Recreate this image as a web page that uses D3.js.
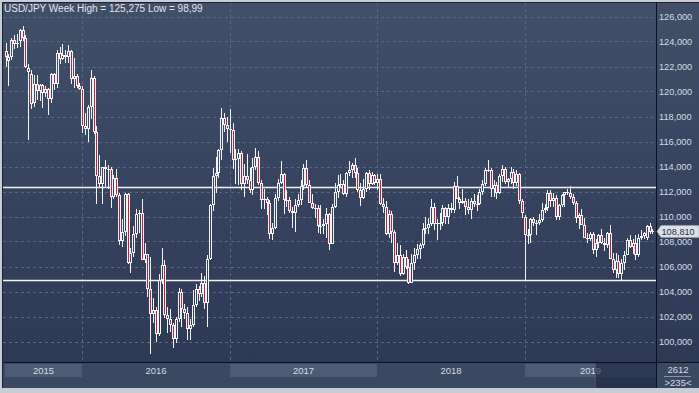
<!DOCTYPE html>
<html><head><meta charset="utf-8">
<script src="https://cdn.jsdelivr.net/npm/d3@7"></script>
<style>html,body{margin:0;padding:0;background:#c8cdd5;overflow:hidden}svg{display:block}</style>
</head><body><svg id="c" width="699" height="393"></svg>
<script>
// ---- data ----
const title = "USD/JPY Week High = 125,275 Low = 98,99";
const firstWeek = "2015-06-29"; // Monday of the first weekly candle
const open = [
// 2015
123.2,122.4,122.8,124.1,123.8,124.0,124.9,124.3,121.9,121.4,119.1,120.6,120.0,120.5,119.9,120.2,119.4,121.4,120.6,123.1,122.6,122.9,122.8,123.2,121.0,121.2,120.4,
// 2016
120.2,117.2,117.0,118.8,121.1,116.8,113.2,112.6,114.0,113.8,113.8,111.6,113.1,111.7,108.0,108.8,111.8,106.3,107.1,108.6,110.2,110.3,106.5,107.0,104.2,102.2,102.5,100.6,104.9,106.1,102.1,101.8,101.3,100.2,101.8,104.0,102.6,102.3,101.0,101.3,102.9,104.2,103.8,104.7,103.1,106.6,110.9,113.2,113.5,115.3,117.9,117.3,
// 2017
117.0,116.9,114.5,114.6,115.1,112.6,113.2,112.9,112.1,114.0,114.8,112.7,111.3,111.4,111.1,108.6,109.1,111.5,112.7,113.4,111.3,111.3,110.4,110.3,110.9,111.3,112.4,113.9,112.5,111.1,110.7,110.7,109.2,109.2,109.4,110.2,107.8,110.8,112.0,112.5,112.6,111.8,113.5,113.7,114.1,113.5,112.1,111.5,112.2,113.5,112.6,113.3,
// 2018
112.7,113.0,111.0,110.8,108.6,110.2,108.8,106.3,106.9,105.4,106.8,106.0,104.7,106.3,106.9,107.4,107.7,109.0,109.1,109.4,110.8,109.4,109.5,109.5,110.7,110.0,110.7,110.5,112.4,111.4,111.1,111.2,110.8,110.5,111.2,111.0,111.0,112.0,112.6,113.7,113.7,112.2,112.5,111.9,113.2,113.8,112.8,113.0,113.6,112.7,113.4,111.2,
// 2019
110.0,108.5,108.5,109.8,109.5,109.5,109.7,110.5,110.7,111.9,111.2,111.5,110.0,110.9,111.7,112.0,111.9,111.6,111.1,109.9,110.1,109.3,108.3,108.2,108.6,107.3,107.9,108.5,107.9,107.7,108.7,106.6,105.7,106.4,105.4,106.3,106.9,108.1,107.6,107.9,106.9,108.3,108.4,108.3,109.2,108.8
];
const high = [
// 2015
123.9,123.0,124.3,124.5,124.6,125.0,125.275,124.5,122.2,121.7,121.3,121.3,120.6,120.6,120.4,120.3,121.5,121.5,123.3,123.6,123.8,123.3,123.7,123.3,122.7,121.4,120.7,
// 2016
120.4,118.3,118.9,121.7,121.2,117.2,114.9,113.4,114.5,114.1,114.0,113.3,113.8,111.9,109.8,111.9,111.9,107.5,109.2,110.6,110.5,111.4,107.9,107.0,106.8,103.5,102.8,105.4,107.5,106.5,102.8,102.6,101.5,102.0,104.3,104.2,103.0,102.8,101.8,104.1,104.6,104.4,105.5,105.2,106.9,111.0,113.9,114.8,115.4,118.66,118.3,118.0,
// 2017
118.6,117.5,115.4,115.4,115.2,114.2,115.0,113.9,114.7,115.5,115.2,112.9,112.2,111.6,111.3,109.5,111.8,113.0,114.4,113.5,112.1,111.6,110.8,111.4,111.8,112.9,114.2,114.5,112.9,111.8,111.0,110.9,110.9,109.8,110.7,110.3,111.0,112.7,113.3,113.4,112.9,113.6,114.45,114.3,114.7,113.9,112.7,113.0,113.6,113.7,113.6,113.4,
// 2018
113.4,113.4,111.5,111.2,110.5,110.4,108.9,107.9,107.7,107.0,107.3,106.6,107.0,107.5,107.8,107.9,109.5,110.0,109.9,111.4,111.1,109.8,110.3,110.9,110.8,111.0,111.1,112.8,113.2,111.6,112.2,111.5,111.4,111.5,111.8,111.7,112.2,112.9,113.9,114.55,113.9,112.9,112.8,113.4,114.1,114.0,113.1,114.0,113.8,113.7,113.5,111.4,
// 2019
110.1,109.0,109.9,110.0,109.7,110.2,111.1,111.0,112.1,112.1,111.9,111.7,111.0,111.8,112.0,112.2,112.4,111.8,111.2,110.3,110.6,109.9,108.7,108.8,108.8,108.2,108.6,109.0,108.3,108.8,109.3,107.1,107.1,106.9,106.6,107.2,108.3,108.5,108.2,108.5,108.6,108.9,108.8,109.3,109.5,109.0
];
const low = [
// 2015
122.0,120.4,122.5,123.4,123.5,123.6,124.0,121.9,116.15,118.6,118.8,119.3,119.2,118.7,119.6,118.1,119.1,120.1,120.3,122.2,122.5,122.3,122.3,120.6,120.3,120.3,120.1,
// 2016
116.7,116.5,116.0,117.8,116.6,111.0,112.3,111.0,112.3,112.2,110.7,111.4,111.6,107.7,107.6,108.4,106.2,105.5,106.8,108.3,108.7,106.5,106.3,103.6,98.99,101.5,100.0,100.4,104.6,101.9,100.7,100.8,99.5,99.9,101.6,101.2,101.8,100.1,100.1,101.2,102.8,103.2,103.6,102.6,101.2,106.5,110.4,111.9,113.1,114.5,116.8,116.0,
// 2017
115.1,113.8,112.6,112.5,112.1,111.6,112.6,111.9,111.7,113.7,112.5,110.6,110.6,110.1,108.2,108.1,109.0,111.2,112.6,110.2,110.8,110.3,109.1,108.8,110.8,110.9,112.1,112.3,111.1,110.6,109.9,108.7,108.6,108.6,108.3,107.3,107.8,110.7,111.5,112.3,111.7,111.6,113.2,113.1,113.1,112.0,110.85,111.4,112.0,112.1,112.5,112.5,
// 2018
112.1,110.9,110.3,108.5,108.3,107.9,105.55,106.1,105.25,105.3,105.8,104.6,104.7,105.7,106.6,106.6,107.5,108.6,108.6,109.2,108.9,108.1,108.9,109.2,109.4,109.4,110.3,110.3,111.4,110.6,111.0,110.1,110.2,109.8,110.8,110.4,110.9,111.7,112.4,113.6,111.6,111.6,111.4,111.8,112.8,112.6,112.3,112.6,112.2,112.4,111.0,109.9,
// 2019
104.87,107.8,107.9,109.2,108.5,109.3,109.6,110.3,110.4,110.8,110.8,109.7,109.7,110.8,110.8,111.7,111.4,110.9,109.5,109.0,109.3,108.3,107.9,108.0,107.0,106.8,107.5,107.8,107.2,107.5,106.6,105.5,105.05,105.1,104.95,105.7,106.9,107.5,107.0,106.5,106.8,108.1,108.2,108.1,108.6,108.6
];
const close = [
// 2015
122.8,122.8,124.1,123.8,123.9,124.9,124.3,122.0,121.6,119.0,120.6,120.0,120.5,119.9,120.2,119.4,121.4,120.6,123.1,122.6,122.9,122.8,123.2,121.0,121.2,120.4,120.2,
// 2016
117.2,117.0,118.8,121.1,116.8,113.2,112.6,114.0,113.8,113.8,111.6,113.1,111.7,108.0,108.8,111.8,106.3,107.1,108.6,110.2,110.3,106.5,107.0,104.2,102.2,102.5,100.6,104.9,106.1,102.1,101.8,101.3,100.2,101.8,104.0,102.6,102.3,101.0,101.3,102.9,104.2,103.8,104.7,103.1,106.6,110.9,113.2,113.5,115.3,117.9,117.3,117.0,
// 2017
116.9,114.5,114.6,115.1,112.6,113.2,112.9,112.1,114.0,114.8,112.7,111.3,111.4,111.1,108.6,109.1,111.5,112.7,113.4,111.3,111.3,110.4,110.3,110.9,111.3,112.4,113.9,112.5,111.1,110.7,110.7,109.2,109.2,109.4,110.2,107.8,110.8,112.0,112.5,112.6,111.8,113.5,113.7,114.1,113.5,112.1,111.5,112.2,113.5,112.6,113.3,112.7,
// 2018
113.0,111.0,110.8,108.6,110.2,108.8,106.3,106.9,105.4,106.8,106.0,104.7,106.3,106.9,107.4,107.7,109.0,109.1,109.4,110.8,109.4,109.5,109.5,110.7,110.0,110.7,110.5,112.4,111.4,111.1,111.2,110.8,110.5,111.2,111.0,111.0,112.0,112.6,113.7,113.7,112.2,112.5,111.9,113.2,113.8,112.8,113.0,113.6,112.7,113.4,111.2,110.3,
// 2019
108.5,108.5,109.8,109.5,109.5,109.7,110.5,110.7,111.9,111.2,111.5,110.0,110.9,111.7,112.0,111.9,111.6,111.1,109.9,110.1,109.3,108.3,108.2,108.6,107.3,107.9,108.5,107.9,107.7,108.7,106.6,105.7,106.4,105.4,106.3,106.9,108.1,107.6,107.9,106.9,108.3,108.4,108.7,109.2,108.8,108.81
];
const yTicks = [100,102,104,106,108,110,112,114,116,118,120,122,124,126];
const levels = [112.38, 104.9];     // drawn horizontal lines
const lastPrice = 108.81;
const footerTop = "2612", footerBottom = ">235<";

// ---- setup ----
const W = 699, H = 393;
const plot = {l:3, r:656, t:3, b:362};
const svg = d3.select("#c");
const defs = svg.append("defs");
const g1 = defs.append("linearGradient").attr("id","bg").attr("gradientUnits","userSpaceOnUse")
  .attr("x1",0).attr("y1",3).attr("x2",0).attr("y2",362);
g1.append("stop").attr("offset",0).attr("stop-color","#414f69");
g1.append("stop").attr("offset",1).attr("stop-color","#2e3955");
defs.append("clipPath").attr("id","clip").append("rect")
  .attr("x",plot.l).attr("y",plot.t).attr("width",plot.r-plot.l).attr("height",plot.b-plot.t);

const fmt = d3.formatLocale({decimal:",", thousands:" ", grouping:[3], currency:["",""]}).format(".3f");

const n = open.length;
const start = d3.timeParse("%Y-%m-%d")(firstWeek);
const weeks = d3.range(n).map(i => d3.timeWeek.offset(start, i));
const isoYear = d3.timeFormat("%G");
const x = d3.scaleBand().domain(d3.range(n)).range([4.2, 653.8]).paddingInner(0);
const cx = i => x(i) + x.bandwidth()/2;
const y = d3.scaleLinear().domain([100,126]).range([341.5,16.5]);

// frame & backgrounds
svg.append("rect").attr("width",W).attr("height",H).attr("fill","#c8cdd5");
svg.append("rect").attr("x",2).attr("y",2).attr("width",W-2).attr("height",386).attr("fill","#1b2233");
svg.append("rect").attr("x",3).attr("y",3).attr("width",W-3).attr("height",359).attr("fill","url(#bg)");
svg.append("rect").attr("x",3).attr("y",363).attr("width",W-3).attr("height",25).attr("fill","#3b4862");

// year boundaries
const yearStarts = [];
weeks.forEach((d,i) => {
  const yr = isoYear(d);
  if (i === 0 || yr !== isoYear(weeks[i-1])) yearStarts.push({year: yr, i});
});
const bands = yearStarts.map((s,j) => ({
  year: s.year,
  x0: j === 0 ? x(0) + 0.8 : Math.round(cx(s.i)),
  x1: j < yearStarts.length-1 ? Math.round(cx(yearStarts[j+1].i)) : plot.r,
  shade: j % 2 === 0
}));

// year band shading & labels
const axisG = svg.append("g");
axisG.selectAll("rect.band").data(bands.filter(b => b.shade)).join("rect")
  .attr("x", b => b.x0).attr("y",364).attr("width", b => b.x1 - b.x0).attr("height",13)
  .attr("fill","#4d5b75");
axisG.selectAll("text").data(bands).join("text")
  .attr("x", b => (b.x0 + b.x1)/2).attr("y",373.5).attr("text-anchor","middle")
  .attr("font-family","'Liberation Sans', Arial, sans-serif").attr("font-size",9.5)
  .attr("fill","#d6dae2").text(b => b.year);

// grid
const grid = svg.append("g").attr("stroke","#5a6782").attr("stroke-dasharray","3,3").attr("stroke-width",1);
grid.selectAll("line.h").data(yTicks).join("line")
  .attr("x1",plot.l).attr("x2",plot.r)
  .attr("y1", v => Math.round(y(v)) + 0.5).attr("y2", v => Math.round(y(v)) + 0.5);
grid.selectAll("line.v").data(bands.slice(1)).join("line")
  .attr("x1", b => b.x0 + 0.5).attr("x2", b => b.x0 + 0.5)
  .attr("y1",plot.t).attr("y2",plot.b);

// level lines
svg.append("g").selectAll("line").data(levels).join("line")
  .attr("x1",plot.l).attr("x2",plot.r)
  .attr("y1", v => Math.round(y(v)) + 0.5).attr("y2", v => Math.round(y(v)) + 0.5)
  .attr("stroke","#f2f2f2").attr("stroke-width",1.3);

// candles
const cg = svg.append("g").attr("clip-path","url(#clip)").attr("shape-rendering","crispEdges");
const data = d3.range(n).map(i => ({i, o:open[i], h:high[i], l:low[i], c:close[i]}));
const cand = cg.selectAll("g").data(data).join("g");
cand.append("rect")
  .attr("x", d => Math.round(cx(d.i))).attr("width",1)
  .attr("y", d => Math.round(y(d.h))).attr("height", d => Math.max(1, Math.round(y(d.l)) - Math.round(y(d.h))))
  .attr("fill","#f4f4f4");
cand.append("rect")
  .attr("x", d => Math.round(cx(d.i)) - 1).attr("width",3)
  .attr("y", d => Math.round(y(Math.max(d.o,d.c))))
  .attr("height", d => Math.max(1, Math.round(y(Math.min(d.o,d.c))) - Math.round(y(Math.max(d.o,d.c)))))
  .attr("fill","#f4f4f4");
cand.filter(d => Math.round(y(Math.min(d.o,d.c))) - Math.round(y(Math.max(d.o,d.c))) > 2).append("rect")
  .attr("x", d => Math.round(cx(d.i))).attr("width",1)
  .attr("y", d => Math.round(y(Math.max(d.o,d.c))) + 1)
  .attr("height", d => Math.round(y(Math.min(d.o,d.c))) - Math.round(y(Math.max(d.o,d.c))) - 2)
  .attr("fill", d => d.c < d.o ? "#b8233f" : "url(#bg)");

// separators
svg.append("rect").attr("x",plot.r).attr("y",2).attr("width",1).attr("height",386).attr("fill","#0e121c");
svg.append("rect").attr("x",3).attr("y",plot.b).attr("width",W-3).attr("height",1).attr("fill","#0e121c");

// right axis
const yAxis = d3.axisRight(y).tickValues(yTicks).tickFormat(fmt).tickSize(0).tickPadding(0);
const ya = svg.append("g").attr("transform","translate(659,0)").call(yAxis);
ya.select(".domain").remove();
ya.selectAll("text").attr("font-family","'Liberation Sans', Arial, sans-serif").attr("font-size",9.2)
  .attr("fill","#d8dce4").attr("x",0).attr("text-anchor","start");

// last price tag
const ty = y(lastPrice);
svg.append("path")
  .attr("d", `M657,${ty} L661,${ty-6} L699,${ty-6} L699,${ty+6} L661,${ty+6} Z`)
  .attr("fill","#dde0e6").attr("stroke","#9aa3b3").attr("stroke-width",0.6);
svg.append("text").attr("x",661.5).attr("y",ty+3.3)
  .attr("font-family","'Liberation Sans', Arial, sans-serif").attr("font-size",9.2)
  .attr("fill","#24304a").text(fmt(lastPrice));

// scroll thumb overlay
svg.append("rect").attr("x",595).attr("y",363).attr("width",61).attr("height",25)
  .attr("fill","#1c2540").attr("opacity",0.62);
svg.append("rect").attr("x",595).attr("y",363).attr("width",1).attr("height",25)
  .attr("fill","#56627c").attr("opacity",0.6);

// footer counters
const ff = "'Liberation Sans', Arial, sans-serif";
svg.append("text").attr("x",678).attr("y",372.5).attr("text-anchor","middle")
  .attr("font-family",ff).attr("font-size",9.5).attr("fill","#d6dae2").text(footerTop);
svg.append("rect").attr("x",664).attr("y",376).attr("width",27).attr("height",1).attr("fill","#8a94a8");
svg.append("text").attr("x",678).attr("y",386).attr("text-anchor","middle")
  .attr("font-family",ff).attr("font-size",9.5).attr("fill","#d6dae2").text(footerBottom);

// title
svg.append("text").attr("x",4).attr("y",11.5)
  .attr("font-family",ff).attr("font-size",10).attr("fill","#e2e6ec").text(title);
</script></body></html>
